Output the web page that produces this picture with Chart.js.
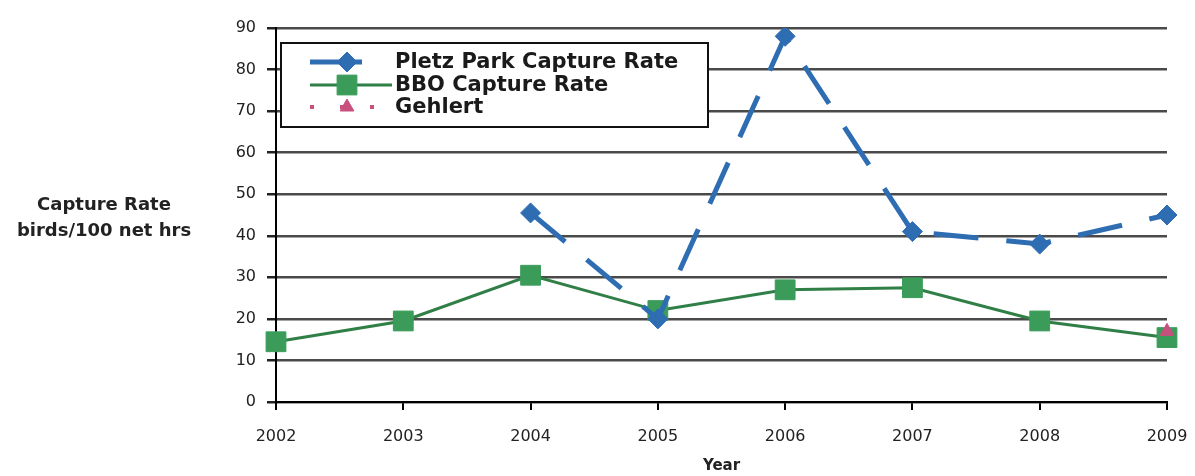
<!DOCTYPE html>
<html>
<head>
<meta charset="utf-8">
<style>
  html, body { margin: 0; padding: 0; background: #ffffff; }
  #wrap { width: 1195px; height: 476px; position: relative; }
  canvas { display: block; }
</style>
<script src="https://cdn.jsdelivr.net/npm/chart.js@4/dist/chart.umd.min.js"></script>
</head>
<body>
<div id="wrap"><canvas id="chart" width="1195" height="476"></canvas></div>
<script>
// Survey years along the x axis
const years = ['2002', '2003', '2004', '2005', '2006', '2007', '2008', '2009'];

// Capture rates (birds / 100 net hrs)
const pletzPark = [null, null, 45.5, 20, 88, 41, 38, 45];
const bboRate = [14.5, 19.5, 30.5, 22, 27, 27.5, 19.5, 15.5];
const gehlert = [null, null, null, null, null, null, null, 17];

const seriesNames = ['Pletz Park Capture Rate', 'BBO Capture Rate', 'Gehlert'];
const yTitleLines = ['Capture Rate', 'birds/100 net hrs'];
const xTitle = 'Year';

const BLUE = '#2f6db3';
const GREEN_LINE = '#2f7f47';
const GREEN_FILL = '#3b9c5a';
const PINK = '#c8507f';
const PLETZ_DASH = [45, 28];

// Horizontal two-line label to the left of the value axis
const yTitlePlugin = {
  id: 'yTitle',
  afterDraw(chart) {
    const ctx = chart.ctx;
    ctx.save();
    ctx.font = 'bold 18px "DejaVu Sans"';
    ctx.fillStyle = '#222';
    ctx.textAlign = 'center';
    ctx.textBaseline = 'middle';
    ctx.fillText(yTitleLines[0], 104, 205);
    ctx.fillText(yTitleLines[1], 104, 231);
    ctx.restore();
  }
};

// Boxed legend sitting inside the plot area, top-left
const boxLegendPlugin = {
  id: 'boxLegend',
  afterDatasetsDraw(chart) {
    const ctx = chart.ctx;
    const x0 = 281, y0 = 43, w = 427, h = 84;
    ctx.save();
    ctx.fillStyle = '#ffffff';
    ctx.fillRect(x0, y0, w, h);
    ctx.strokeStyle = '#111';
    ctx.lineWidth = 2;
    ctx.setLineDash([]);
    ctx.strokeRect(x0, y0, w, h);

    const rows = [62, 85, 107];
    const lx1 = 310, mx = 347;

    chart.data.datasets.forEach((ds, i) => {
      const y = rows[i];
      ctx.save();
      ctx.strokeStyle = ds.borderColor;
      ctx.lineWidth = ds.borderWidth;
      ctx.setLineDash(ds.legendDash || []);
      ctx.beginPath();
      ctx.moveTo(lx1, y);
      ctx.lineTo(ds.legendEnd, y);
      ctx.stroke();
      ctx.restore();

      ctx.save();
      ctx.fillStyle = ds.pointBackgroundColor;
      ctx.strokeStyle = ds.pointBorderColor;
      ctx.lineWidth = ds.pointBorderWidth;
      ctx.setLineDash([]);
      Chart.helpers.drawPoint(ctx, {
        pointStyle: ds.pointStyle,
        radius: ds.pointRadius,
        borderWidth: ds.pointBorderWidth
      }, mx, y);
      ctx.restore();

      ctx.font = 'bold 21px "DejaVu Sans"';
      ctx.fillStyle = '#1a1a1a';
      ctx.textAlign = 'left';
      ctx.textBaseline = 'middle';
      ctx.fillText(ds.label, 395, y + 1);
    });
    ctx.restore();
  }
};

const tickFont = { family: '"DejaVu Sans"', size: 16 };

new Chart(document.getElementById('chart'), {
  type: 'line',
  data: {
    labels: years,
    datasets: [
      {
        label: seriesNames[0],
        data: pletzPark,
        borderColor: BLUE,
        borderWidth: 5,
        borderDash: PLETZ_DASH,
        legendEnd: 362,
        pointStyle: 'rectRot',
        pointRadius: 10,
        pointBackgroundColor: BLUE,
        pointBorderColor: BLUE,
        pointBorderWidth: 1,
        tension: 0,
        order: 1
      },
      {
        label: seriesNames[1],
        data: bboRate,
        borderColor: GREEN_LINE,
        borderWidth: 3,
        legendEnd: 392,
        pointStyle: 'rect',
        pointRadius: 14,
        pointBackgroundColor: GREEN_FILL,
        pointBorderColor: GREEN_FILL,
        pointBorderWidth: 1,
        tension: 0,
        order: 2
      },
      {
        label: seriesNames[2],
        data: gehlert,
        borderColor: PINK,
        borderWidth: 4,
        borderDash: [4, 26],
        legendDash: [4, 26],
        legendEnd: 380,
        pointStyle: 'triangle',
        pointRadius: 8,
        pointBackgroundColor: PINK,
        pointBorderColor: PINK,
        pointBorderWidth: 1,
        tension: 0,
        order: 0
      }
    ]
  },
  options: {
    responsive: false,
    animation: false,
    layout: { padding: { left: 230, right: 28, top: 28, bottom: 0 } },
    plugins: {
      legend: { display: false },
      tooltip: { enabled: false },
      title: { display: false }
    },
    scales: {
      x: {
        offset: false,
        border: { color: '#000', width: 2 },
        grid: { drawOnChartArea: false, drawTicks: true, tickLength: 8, tickColor: '#000', lineWidth: 2 },
        ticks: { font: tickFont, color: '#222', padding: 17, maxRotation: 0, autoSkip: false },
        title: {
          display: true,
          text: xTitle,
          font: { family: '"DejaVu Sans"', size: 15, weight: 'bold' },
          color: '#222',
          padding: { top: 0, bottom: 1 }
        },
        afterFit(scale) {
          scale.height = 74;
          scale.paddingLeft = 0;
          scale.paddingRight = 0;
        }
      },
      y: {
        min: 0,
        max: 90,
        border: { color: '#000', width: 2 },
        grid: { color: '#4a4a4a', lineWidth: 2.5, tickLength: 9, tickColor: '#222' },
        ticks: { stepSize: 10, font: tickFont, color: '#222', padding: 11 },
        afterFit(scale) { scale.width = 46; }
      }
    }
  },
  plugins: [yTitlePlugin, boxLegendPlugin]
});
</script>
</body>
</html>
